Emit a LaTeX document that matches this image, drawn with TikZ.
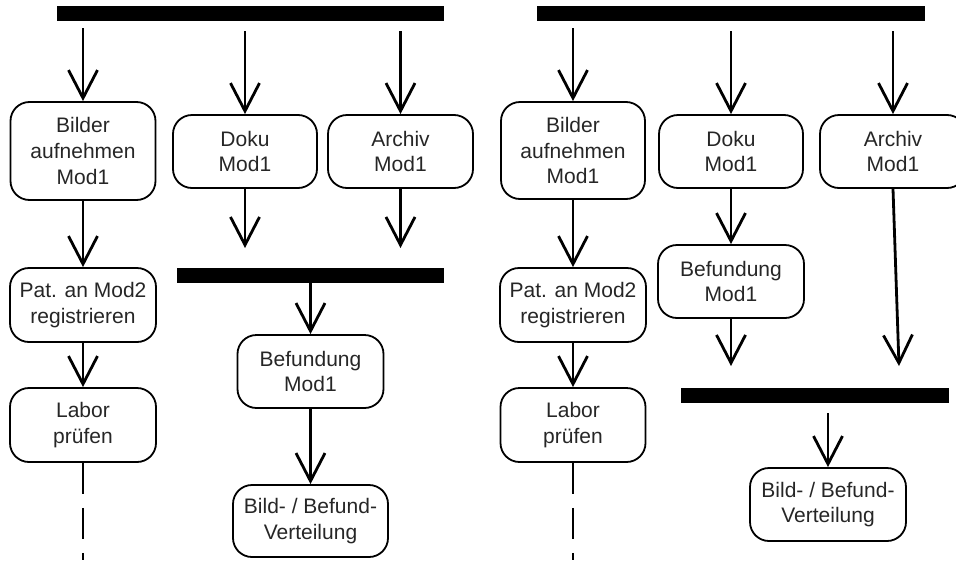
\documentclass[tikz,border=0pt]{standalone}
\usepackage{fontspec}
\setmainfont{Liberation Sans}
\usetikzlibrary{arrows.meta}
\begin{document}
\begin{tikzpicture}[x=1pt,y=-1pt,
  box/.style={draw=black, line width=1.8pt, rounded corners=19pt, align=center,
    inner sep=0pt, text=black!85, font=\fontsize{21pt}{25.7pt}\selectfont},
  syncbar/.style={fill=black, draw=none, inner sep=0pt, minimum height=15pt},
  flow/.style={line width=2.8pt, -{Straight Barb[length=28pt,width=29pt]}},
  trail/.style={line width=2pt, dash pattern=on 31pt off 14pt}]
\clip (0,0) rectangle (956,560);

% ---------- left variant ----------
\node[syncbar, minimum width=387pt] (forkL) at (250.5,13.5) {};
\node[box, minimum width=145pt, minimum height=98pt] (bilderL) at (83,151) {Bilder\\aufnehmen\\Mod1};
\node[box, minimum width=144pt, minimum height=73pt] (dokuL) at (245,151.5) {Doku\\Mod1};
\node[box, minimum width=145pt, minimum height=73pt] (archivL) at (400.5,151.5) {Archiv\\Mod1};
\node[box, minimum width=146pt, minimum height=74pt] (patL) at (83,305) {Pat. an Mod2\\registrieren};
\node[box, minimum width=146pt, minimum height=74pt] (laborL) at (83,425) {Labor\\prüfen};
\node[syncbar, minimum width=267pt] (joinL) at (310.5,275.5) {};
\node[box, minimum width=146pt, minimum height=73pt] (befundL) at (310.5,371.5) {Befundung\\Mod1};
\node[box, minimum width=155pt, minimum height=72pt] (verteilL) at (310.5,521) {Bild- / Befund-\\Verteilung};
\coordinate (dokuLend) at (245,248);
\coordinate (archivLend) at (400.5,248);
\coordinate (laborLend) at (83,560);

\draw[flow] ([yshift=-7pt]forkL.south -| bilderL.north) -- (bilderL.north);
\draw[flow] ([yshift=-10pt]forkL.south -| dokuL.north) -- (dokuL.north);
\draw[flow] ([yshift=-10pt]forkL.south -| archivL.north) -- (archivL.north);
\draw[flow] (bilderL.south) -- (patL.north);
\draw[flow] (patL.south) -- (laborL.north);
\draw[flow] (dokuL.south) -- (dokuLend);
\draw[flow] (archivL.south) -- (archivLend);
\draw[flow] (joinL.south -| befundL.north) -- (befundL.north);
\draw[flow] (befundL.south) -- (verteilL.north);
\draw[trail] (laborL.south) -- (laborLend);

% ---------- right variant ----------
\node[syncbar, minimum width=388pt] (forkR) at (731,13.5) {};
\node[box, minimum width=144pt, minimum height=97pt] (bilderR) at (573,150.5) {Bilder\\aufnehmen\\Mod1};
\node[box, minimum width=144pt, minimum height=73pt] (dokuR) at (731,151.5) {Doku\\Mod1};
\node[box, minimum width=146pt, minimum height=73pt] (archivR) at (893,151.5) {Archiv\\Mod1};
\node[box, minimum width=146pt, minimum height=74pt] (patR) at (573,305) {Pat. an Mod2\\registrieren};
\node[box, minimum width=145pt, minimum height=74pt] (laborR) at (573,425) {Labor\\prüfen};
\node[box, minimum width=146pt, minimum height=73pt] (befundR) at (731,281.5) {Befundung\\Mod1};
\node[syncbar, minimum width=268pt] (joinR) at (815,395.5) {};
\node[box, minimum width=156pt, minimum height=73pt] (verteilR) at (828,504.5) {Bild- / Befund-\\Verteilung};
\coordinate (befundRend) at (731,366);
\coordinate (archivRend) at (899,366);
\coordinate (laborRend) at (573,560);

\draw[flow] ([yshift=-7pt]forkR.south -| bilderR.north) -- (bilderR.north);
\draw[flow] ([yshift=-10pt]forkR.south -| dokuR.north) -- (dokuR.north);
\draw[flow] ([yshift=-10pt]forkR.south -| archivR.north) -- (archivR.north);
\draw[flow] (bilderR.south) -- (patR.north);
\draw[flow] (patR.south) -- (laborR.north);
\draw[flow] (dokuR.south) -- (befundR.north);
\draw[flow] (befundR.south) -- (befundRend);
\draw[flow] (archivR.south) -- (archivRend);
\draw[flow] ([yshift=-10pt]joinR.south -| verteilR.north) -- (verteilR.north);
\draw[trail] (laborR.south) -- (laborRend);
\end{tikzpicture}
\end{document}
